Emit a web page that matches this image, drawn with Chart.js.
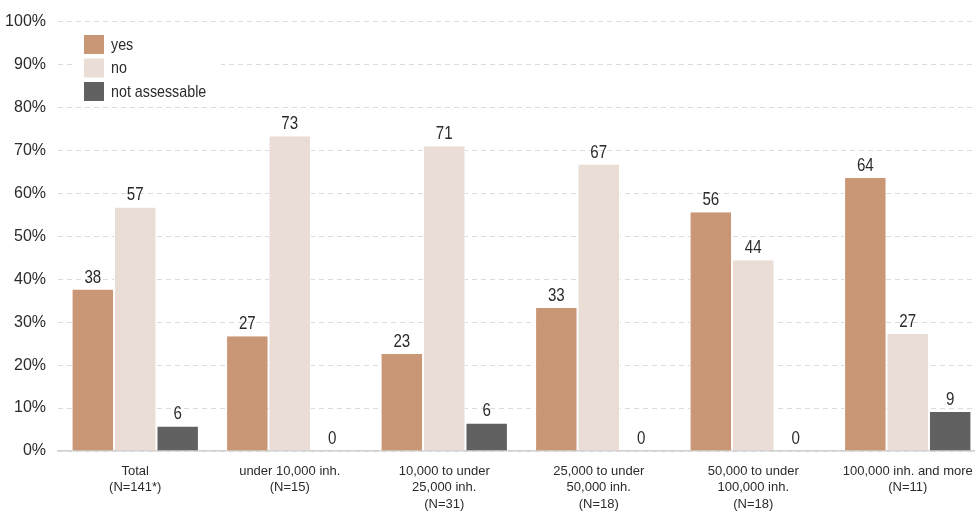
<!DOCTYPE html>
<html>
<head>
<meta charset="utf-8">
<script src="https://cdn.jsdelivr.net/npm/chart.js@4.4.1/dist/chart.umd.min.js"></script>
<style>
  html, body { margin: 0; padding: 0; background: #fff; overflow: hidden; }
  canvas { display: block; }
</style>
</head>
<body>
<canvas id="bar-chart" width="985" height="516"></canvas>
<script>
'use strict';

// categories (multi-line x labels)
const categories = [
  ['Total', '(N=141*)'],
  ['under 10,000 inh.', '(N=15)'],
  ['10,000 to under', '25,000 inh.', '(N=31)'],
  ['25,000 to under', '50,000 inh.', '(N=18)'],
  ['50,000 to under', '100,000 inh.', '(N=18)'],
  ['100,000 inh. and more', '(N=11)']
];

// shares in percent
const yes = [37.6, 26.7, 22.6, 33.3, 55.6, 63.6];
const no = [56.7, 73.3, 71.0, 66.7, 44.4, 27.3];
const notAssessable = [5.7, 0, 6.4, 0, 0, 9.1];

const yTicks = [0, 10, 20, 30, 40, 50, 60, 70, 80, 90, 100];

const FONT = "'Liberation Sans Narrow', 'Arial Narrow', 'Liberation Sans', sans-serif";
const TEXT = '#2b2b2b';
const SQUEEZE = 0.84; // no narrow font installed, so squeeze own text a bit

function narrowText(ctx, txt, x, y) {
  ctx.save();
  ctx.translate(x, y);
  ctx.scale(SQUEEZE, 1);
  ctx.fillText(txt, 0, 0);
  ctx.restore();
}

// value labels above each bar
const valueLabels = {
  id: 'valueLabels',
  afterDatasetsDraw(chart) {
    const ctx = chart.ctx;
    ctx.save();
    ctx.font = '18px ' + FONT;
    ctx.fillStyle = TEXT;
    ctx.textAlign = 'center';
    ctx.textBaseline = 'bottom';
    chart.data.datasets.forEach((ds, i) => {
      chart.getDatasetMeta(i).data.forEach((bar, j) => {
        narrowText(ctx, String(Math.round(ds.data[j])), bar.x, bar.y - 3);
      });
    });
    ctx.restore();
  }
};

// legend floating inside the plot, white box over the grid
const floatLegend = {
  id: 'floatLegend',
  afterDraw(chart) {
    const ctx = chart.ctx;
    const x0 = 84, y0 = 35;
    ctx.save();
    ctx.fillStyle = '#fff';
    ctx.fillRect(73, 27, 148, 78);
    ctx.font = '17px ' + FONT;
    ctx.textBaseline = 'middle';
    ctx.textAlign = 'left';
    chart.data.datasets.forEach((ds, i) => {
      const y = y0 + i * 23.5;
      ctx.fillStyle = ds.backgroundColor;
      ctx.fillRect(x0, y, 20, 19);
      ctx.fillStyle = TEXT;
      narrowText(ctx, ds.label, x0 + 27, y + 10);
    });
    ctx.restore();
  }
};

const sideBorders = {left: 1, right: 1, top: 0, bottom: 0};

new Chart(document.querySelector('#bar-chart'), {
  type: 'bar',
  data: {
    labels: categories,
    datasets: [
      {label: 'yes', data: yes, backgroundColor: '#C99676',
       borderColor: '#fff', borderWidth: sideBorders},
      {label: 'no', data: no, backgroundColor: '#E9DDD5',
       borderColor: '#fff', borderWidth: sideBorders},
      {label: 'not assessable', data: notAssessable, backgroundColor: '#616161',
       borderColor: '#fff', borderWidth: sideBorders}
    ]
  },
  options: {
    responsive: false,
    animation: false,
    categoryPercentage: 0.824,
    barPercentage: 1,
    layout: {padding: {top: 14, right: 0, bottom: 0, left: 0}},
    plugins: {
      legend: {display: false},
      tooltip: {enabled: false}
    },
    scales: {
      x: {
        grid: {display: false, drawTicks: false},
        border: {display: true, color: '#cfcfcf', width: 1.5},
        ticks: {
          color: TEXT,
          font: {family: FONT, size: 13, lineHeight: 1.27},
          padding: 12,
          maxRotation: 0,
          autoSkip: false
        },
        afterFit(scale) { scale.height = 65; }
      },
      y: {
        min: 0,
        max: 100,
        afterBuildTicks(scale) { scale.ticks = yTicks.map(v => ({value: v})); },
        grid: {
          color: '#dcdcdc',
          drawTicks: false
        },
        border: {display: false, dash: [5, 4]},
        ticks: {
          color: TEXT,
          font: {family: FONT, size: 16},
          padding: 12,
          callback: v => v + '%'
        },
        afterFit(scale) { scale.width = 58; }
      }
    }
  },
  plugins: [valueLabels, floatLegend]
});
</script>
</body>
</html>
